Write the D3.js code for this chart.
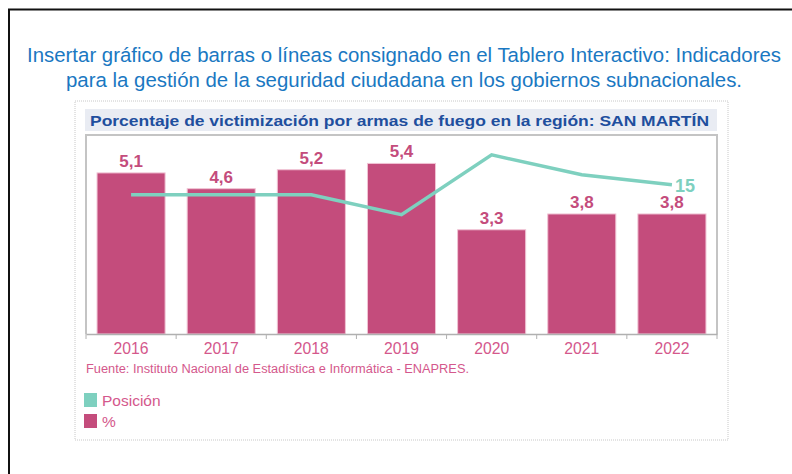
<!DOCTYPE html>
<html>
<head>
<meta charset="utf-8">
<script src="https://cdn.jsdelivr.net/npm/d3@7"></script>
<style>
  body { margin: 0; background: #fff; }
  text { font-family: "Liberation Sans", Arial, sans-serif; }
  .narrow { font-family: "Liberation Sans Narrow", "Liberation Sans", Arial, sans-serif; }
</style>
</head>
<body>
<div id="chart"></div>
<script>
const years = ["2016", "2017", "2018", "2019", "2020", "2021", "2022"];
const porcentaje = [5.1, 4.6, 5.2, 5.4, 3.3, 3.8, 3.8];
const posicion = [14, 14, 14, 12, 18, 16, 15];
const legendItems = ["Posición", "%"];

const W = 792, H = 474;
const pink = "#c44c7c";
const teal = "#7ed0bf";
const lightPink = "#d4588c";

const svg = d3.select("#chart")
  .append("svg")
  .attr("width", W)
  .attr("height", H);

svg.append("rect").attr("width", W).attr("height", H).attr("fill", "#fff");

// outer black frame
svg.append("path")
  .attr("d", `M9,${H} V9.5 H${W}`)
  .attr("fill", "none")
  .attr("stroke", "#111")
  .attr("stroke-width", 2);

// blue heading
const heading = [
  "Insertar gráfico de barras o líneas consignado en el Tablero Interactivo: Indicadores",
  "para la gestión de la seguridad ciudadana en los gobiernos subnacionales."
];
const headLen = [754, 676];
svg.selectAll(".heading")
  .data(heading)
  .join("text")
  .attr("class", "heading narrow")
  .attr("x", 404)
  .attr("y", (d, i) => 62 + i * 25)
  .attr("text-anchor", "middle")
  .attr("font-size", 20.5)
  .attr("fill", "#1a78c2")
  .attr("textLength", (d, i) => headLen[i])
  .attr("lengthAdjust", "spacingAndGlyphs")
  .text(d => d);

// dotted panel
svg.append("rect")
  .attr("x", 75).attr("y", 101)
  .attr("width", 653).attr("height", 339)
  .attr("fill", "none")
  .attr("stroke", "#c8c8c8")
  .attr("stroke-dasharray", "1,1");

// chart title bar
svg.append("rect")
  .attr("x", 85).attr("y", 109)
  .attr("width", 632).attr("height", 22)
  .attr("fill", "#e9ecf3");
svg.append("text")
  .attr("x", 90).attr("y", 126)
  .attr("font-size", 15)
  .attr("font-weight", "bold")
  .attr("fill", "#1f4f9e")
  .attr("textLength", 619)
  .attr("lengthAdjust", "spacingAndGlyphs")
  .text("Porcentaje de victimización por armas de fuego en la región: SAN MARTÍN");

// plot area
const pLeft = 86, pRight = 717, pTop = 135, pBottom = 334;

const x = d3.scaleBand()
  .domain(years)
  .range([pLeft, pRight])
  .paddingInner(0.245)
  .paddingOuter(0.1225);

const y = d3.scaleLinear().domain([0, 6.3]).range([pBottom, pTop]);
const y2 = d3.scaleLinear().domain([0, 20]).range([pBottom, pTop]);

svg.append("path")
  .attr("d", `M${pLeft},${pBottom} V${pTop} H${pRight} V${pBottom}`)
  .attr("fill", "none")
  .attr("stroke", "#c4c4c4")
  .attr("stroke-width", 2);

svg.append("g")
  .selectAll("rect")
  .data(years)
  .join("rect")
  .attr("x", d => x(d))
  .attr("y", (d, i) => y(porcentaje[i]))
  .attr("width", x.bandwidth())
  .attr("height", (d, i) => pBottom - y(porcentaje[i]))
  .attr("fill", pink)
  .attr("stroke", "#f0c3d4")
  .attr("stroke-width", 1);

// x axis: labels from band scale, ticks at category boundaries
const xAxis = svg.append("g")
  .attr("transform", `translate(0,${pBottom})`)
  .call(d3.axisBottom(x).tickSize(0).tickPadding(8));
xAxis.select(".domain").attr("stroke", "#b0b0b0").attr("stroke-width", 1.5);
xAxis.selectAll("text")
  .attr("class", "narrow")
  .attr("font-family", null)
  .attr("font-size", 16.5)
  .attr("fill", lightPink)
  .attr("textLength", 35)
  .attr("lengthAdjust", "spacingAndGlyphs");
xAxis.selectAll(".edge")
  .data(d3.range(years.length + 1))
  .join("line")
  .attr("class", "edge")
  .attr("x1", i => pLeft + i * (pRight - pLeft) / years.length)
  .attr("x2", i => pLeft + i * (pRight - pLeft) / years.length)
  .attr("y1", 0).attr("y2", 5)
  .attr("stroke", "#b0b0b0");

// line (secondary scale)
const line = d3.line()
  .x((d, i) => x(years[i]) + x.bandwidth() / 2)
  .y(d => y2(d));

svg.append("path")
  .datum(posicion)
  .attr("d", line)
  .attr("fill", "none")
  .attr("stroke", teal)
  .attr("stroke-width", 3.5);

svg.append("text")
  .attr("x", x(years[6]) + x.bandwidth() / 2 + 3)
  .attr("y", y2(posicion[6]) + 7)
  .attr("font-size", 18)
  .attr("font-weight", "bold")
  .attr("fill", teal)
  .text(posicion[6]);

// bar labels
const fmt = d3.formatLocale({ decimal: ",", thousands: ".", grouping: [3], currency: ["", ""] }).format(".1f");
svg.append("g")
  .selectAll("text")
  .data(years)
  .join("text")
  .attr("x", d => x(d) + x.bandwidth() / 2)
  .attr("y", (d, i) => y(porcentaje[i]) - 6)
  .attr("text-anchor", "middle")
  .attr("font-size", 17)
  .attr("font-weight", "bold")
  .attr("fill", pink)
  .text((d, i) => fmt(porcentaje[i]));

// source
svg.append("text")
  .attr("class", "narrow")
  .attr("x", 86).attr("y", 373)
  .attr("font-size", 12)
  .attr("fill", lightPink)
  .attr("textLength", 383)
  .attr("lengthAdjust", "spacingAndGlyphs")
  .text("Fuente: Instituto Nacional de Estadística e Informática - ENAPRES.");

// legend
const legend = svg.append("g")
  .selectAll("g")
  .data(legendItems)
  .join("g")
  .attr("transform", (d, i) => `translate(84,${393 + i * 21})`);
legend.append("rect")
  .attr("width", 13).attr("height", 14)
  .attr("fill", (d, i) => i === 0 ? teal : pink);
legend.append("text")
  .attr("class", "narrow")
  .attr("x", 18).attr("y", 13)
  .attr("font-size", 15.5)
  .attr("fill", lightPink)
  .text(d => d);
</script>
</body>
</html>
